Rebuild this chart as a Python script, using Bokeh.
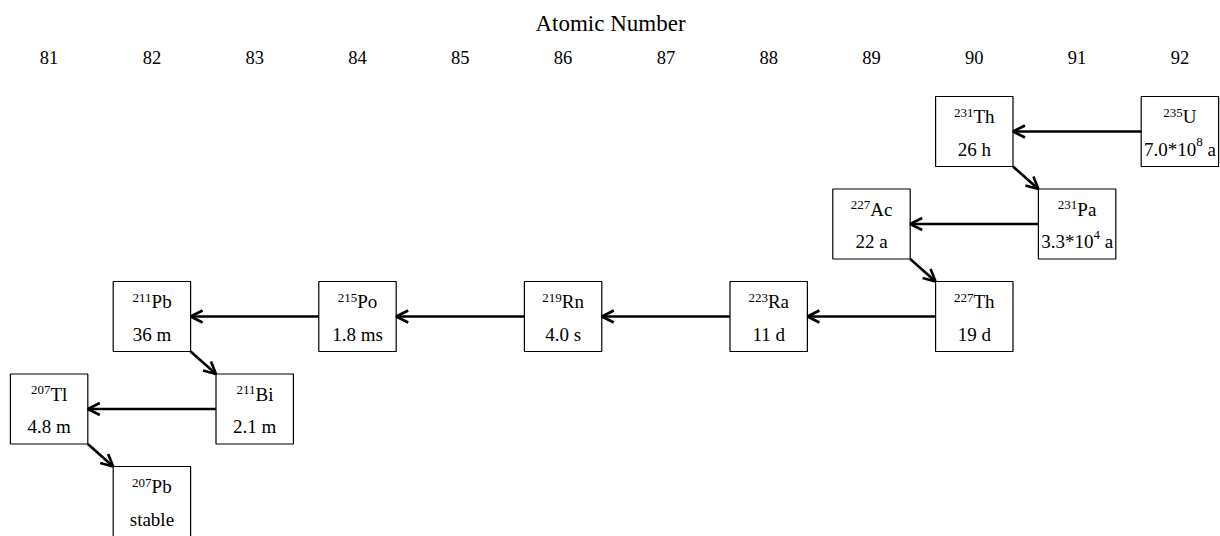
from bokeh.plotting import figure
from bokeh.models import Range1d, FixedTicker, Arrow, OpenHead, ColumnDataSource
from bokeh.core.properties import value
from bokeh.embed import file_html
from bokeh.resources import INLINE

# ---------------- data ----------------
ATOMIC_NUMBER_TICKS = [81, 82, 83, 84, 85, 86, 87, 88, 89, 90, 91, 92]
AXIS_TITLE = "Atomic Number"

SYMBOLS = ["U", "Th", "Pa", "Ac", "Th", "Ra", "Rn", "Po", "Pb", "Bi", "Tl", "Pb"]
MASS_NUMBERS = [235, 231, 231, 227, 227, 223, 219, 215, 211, 211, 207, 207]
ATOMIC_NUMBERS = [92, 90, 91, 89, 90, 88, 86, 84, 82, 83, 81, 82]
CHAIN_ROWS = [1, 1, 2, 2, 3, 3, 3, 3, 3, 4, 4, 5]
HALF_LIVES = ["7.0*10^8 a", "26 h", "3.3*10^4 a", "22 a", "19 d", "11 d",
              "4.0 s", "1.8 ms", "36 m", "2.1 m", "4.8 m", "stable"]

# ---------------- style ----------------
FONT = "Liberation Serif"
MAIN_PX = 19
SUP_PX = 13
BOX_W = 0.753      # in atomic-number units
BOX_H = 0.757      # in row units
W, H = 1220, 536
FRAME_TOP = 70

# Times / Liberation Serif advance widths (em)
CW = {**{d: 0.5 for d in "0123456789"}, ".": 0.25, "*": 0.5, " ": 0.25,
      "a": 0.444, "h": 0.5, "m": 0.778, "s": 0.389, "d": 0.5, "t": 0.278,
      "b": 0.5, "l": 0.278, "e": 0.444, "c": 0.444, "n": 0.5, "o": 0.5,
      "i": 0.278, "T": 0.611, "P": 0.556, "A": 0.722, "R": 0.667,
      "B": 0.667, "U": 0.722}


def tw(s, px):
    return sum(CW.get(ch, 0.5) for ch in s) * px


# pixel mapping
px_per_z = 102.8
z81_px = 48.6
x_start = 81 - z81_px / px_per_z
x_end = x_start + W / px_per_z
row_px = 92.5
row1_c = 131.0
y_top = 1 + (FRAME_TOP - row1_c) / row_px
y_bottom = 1 + (H - row1_c) / row_px

p = figure(width=W, height=H,
           x_range=Range1d(x_start, x_end),
           y_range=Range1d(y_bottom, y_top),
           x_axis_location="above", y_axis_location=None,
           output_backend="svg", toolbar_location=None,
           min_border_left=0, min_border_right=0,
           min_border_bottom=0, min_border_top=FRAME_TOP)
p.outline_line_color = None
p.xgrid.visible = False
p.ygrid.visible = False
p.background_fill_color = "white"
p.border_fill_color = "white"

ax = p.xaxis[0]
ax.ticker = FixedTicker(ticks=ATOMIC_NUMBER_TICKS)
ax.major_label_overrides = {t: str(t) for t in ATOMIC_NUMBER_TICKS}
ax.axis_line_color = None
ax.major_tick_line_color = None
ax.minor_tick_line_color = None
ax.major_tick_out = 0
ax.major_tick_in = 0
ax.major_label_text_font = FONT
ax.major_label_text_font_size = "18.5px"
ax.major_label_text_color = "black"
ax.major_label_standoff = 7
ax.axis_label = AXIS_TITLE
ax.axis_label_text_font = FONT
ax.axis_label_text_font_size = "23px"
ax.axis_label_text_font_style = "normal"
ax.axis_label_text_color = "black"
ax.axis_label_standoff = 12

# ---------------- boxes ----------------
box_src = ColumnDataSource(dict(x=ATOMIC_NUMBERS, y=CHAIN_ROWS))
p.rect(x="x", y="y", width=BOX_W, height=BOX_H, source=box_src,
       fill_color="white", line_color="black", line_width=1.2)

# ---------------- arrows ----------------
ax_s, ay_s, ax_e, ay_e = [], [], [], []
for i in range(len(SYMBOLS) - 1):
    zp, zd = ATOMIC_NUMBERS[i], ATOMIC_NUMBERS[i + 1]
    rp, rd = CHAIN_ROWS[i], CHAIN_ROWS[i + 1]
    if zd < zp:   # alpha decay: horizontal to the left
        ax_s.append(zp - BOX_W / 2); ay_s.append(rp)
        ax_e.append(zd + BOX_W / 2); ay_e.append(rd)
    else:         # beta decay: diagonal down-right
        ax_s.append(zp + BOX_W / 2); ay_s.append(rp + BOX_H / 2)
        ax_e.append(zd - BOX_W / 2); ay_e.append(rd - BOX_H / 2)
arrow_src = ColumnDataSource(dict(x0=ax_s, y0=ay_s, x1=ax_e, y1=ay_e))
p.add_layout(Arrow(x_start="x0", y_start="y0", x_end="x1", y_end="y1",
                   source=arrow_src, line_width=2.6, line_color="black",
                   end=OpenHead(size=12, line_width=2.6, line_color="black")))

# ---------------- labels ----------------
sup_d = dict(x=[], y=[], t=[], xo=[])
main_d = dict(x=[], y=[], t=[], xo=[])
hl_center = dict(x=[], y=[], t=[])
hl_left = dict(x=[], y=[], t=[], xo=[])
hl_sup = dict(x=[], y=[], t=[], xo=[])

for z, r, sym, a, hl in zip(ATOMIC_NUMBERS, CHAIN_ROWS, SYMBOLS, MASS_NUMBERS, HALF_LIVES):
    ms = str(a)
    ws, wm = tw(ms, SUP_PX), tw(sym, MAIN_PX)
    b = (ws - wm) / 2
    sup_d["x"].append(z); sup_d["y"].append(r); sup_d["t"].append(ms); sup_d["xo"].append(b)
    main_d["x"].append(z); main_d["y"].append(r); main_d["t"].append(sym); main_d["xo"].append(b)
    if "^" in hl:
        base, rest = hl.split("^")
        exp, unit = rest.split(" ", 1)
        wb, we = tw(base, MAIN_PX), tw(exp, SUP_PX)
        wsp, wu = tw(" ", MAIN_PX), tw(unit, MAIN_PX)
        left = -(wb + we + wsp + wu) / 2
        hl_left["x"] += [z, z]; hl_left["y"] += [r, r]
        hl_left["t"] += [base, unit]; hl_left["xo"] += [left, left + wb + we + wsp]
        hl_sup["x"].append(z); hl_sup["y"].append(r); hl_sup["t"].append(exp)
        hl_sup["xo"].append(left + wb)
    else:
        hl_center["x"].append(z); hl_center["y"].append(r); hl_center["t"].append(hl)

common = dict(text_font=value(FONT), text_color="black", text_baseline="alphabetic")
NAME_DY = -15
HL_DY = 17.5
p.text(x="x", y="y", text="t", x_offset="xo", y_offset=NAME_DY - 4,
       source=ColumnDataSource(sup_d), text_align="right",
       text_font_size=value(f"{SUP_PX}px"), **common)
p.text(x="x", y="y", text="t", x_offset="xo", y_offset=NAME_DY,
       source=ColumnDataSource(main_d), text_align="left",
       text_font_size=value(f"{MAIN_PX}px"), **common)
p.text(x="x", y="y", text="t", y_offset=HL_DY,
       source=ColumnDataSource(hl_center), text_align="center",
       text_font_size=value(f"{MAIN_PX}px"), **common)
p.text(x="x", y="y", text="t", x_offset="xo", y_offset=HL_DY,
       source=ColumnDataSource(hl_left), text_align="left",
       text_font_size=value(f"{MAIN_PX}px"), **common)
p.text(x="x", y="y", text="t", x_offset="xo", y_offset=HL_DY - 7,
       source=ColumnDataSource(hl_sup), text_align="left",
       text_font_size=value(f"{SUP_PX}px"), **common)

open("out.html", "w").write(file_html(p, INLINE))
